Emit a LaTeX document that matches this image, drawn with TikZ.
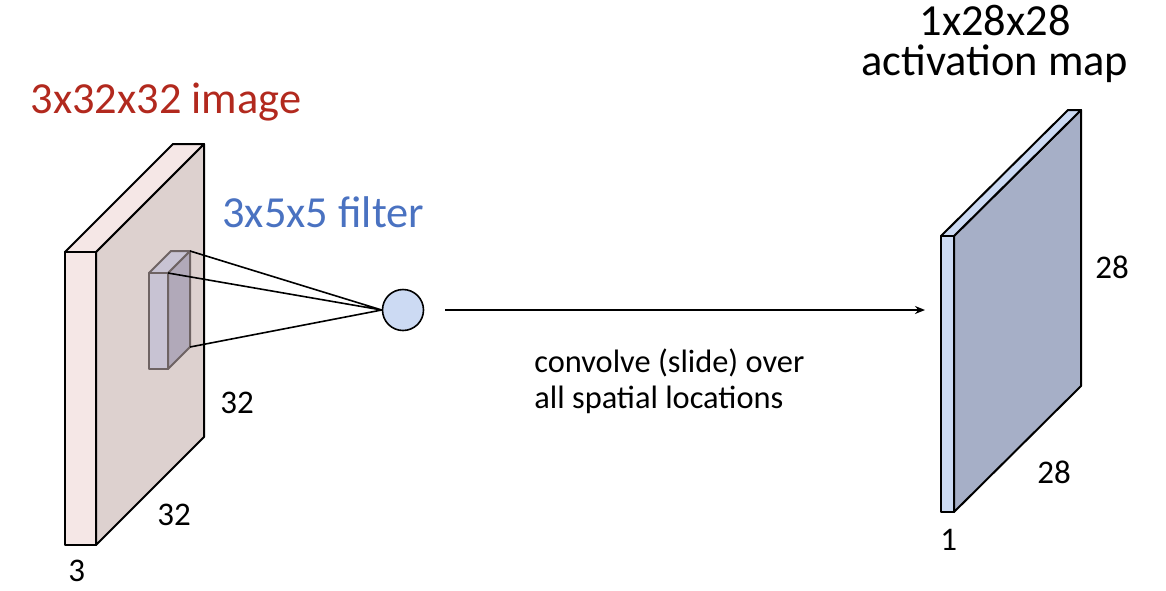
\documentclass[tikz,border=0pt]{standalone}
\usepackage{fontspec}
\setmainfont{Carlito}
\usetikzlibrary{arrows.meta}
\definecolor{imgfront}{HTML}{F5E7E6}
\definecolor{imgside}{HTML}{DDD1CF}
\definecolor{filtfront}{HTML}{C8C3D3}
\definecolor{filtside}{HTML}{B1A9B9}
\definecolor{filtedge}{HTML}{6E6363}
\definecolor{mapfront}{HTML}{CCDAF3}
\definecolor{mapside}{HTML}{A6AFC7}
\definecolor{titlered}{HTML}{B2291E}
\definecolor{filtblue}{HTML}{4A72C1}
\begin{document}
\begin{tikzpicture}[x=0.5pt,y=-0.5pt,>={Stealth[length=5pt,width=4pt]},
  slab/.style={draw=black,line width=1pt,line join=round},
  cube/.style={draw=filtedge,line width=1pt,line join=round},
  big/.style={font=\fontsize{22.2}{20}\selectfont,inner sep=0pt},
  dim/.style={font=\fontsize{16.5}{18}\selectfont,inner sep=0pt,anchor=base west},
  note/.style={font=\fontsize{16.2}{18}\selectfont,inner sep=0pt,align=left}]
  \useasboundingbox (0,0) rectangle (1166,590);
  % input image 3x32x32
  \coordinate (I1) at (65,252); \coordinate (I2) at (96,252); \coordinate (I3) at (96,545); \coordinate (I4) at (65,545);
  \coordinate (J1) at (173,144); \coordinate (J2) at (204,144); \coordinate (J3) at (204,437);
  \draw[slab,fill=imgside] (I2)--(J2)--(J3)--(I3)--cycle;
  \draw[slab,fill=imgfront] (I1)--(J1)--(J2)--(I2)--cycle;
  \draw[slab,fill=imgfront] (I1)--(I2)--(I3)--(I4)--cycle;
  % filter 3x5x5
  \coordinate (F1) at (149,273); \coordinate (F2) at (168,273); \coordinate (F3) at (168,369); \coordinate (F4) at (149,369);
  \coordinate (G1) at (171,251); \coordinate (G2) at (190,251); \coordinate (G3) at (190,347);
  \draw[cube,fill=filtside] (F2)--(G2)--(G3)--(F3)--cycle;
  \draw[cube,fill=filtfront] (F1)--(G1)--(G2)--(F2)--cycle;
  \draw[cube,fill=filtfront] (F1)--(F2)--(F3)--(F4)--cycle;
  \node[circle,draw=black,line width=0.8pt,fill=mapfront,minimum size=20.5pt,inner sep=0pt] (dot) at (403,310) {};
  \draw[line width=0.8pt] (G2)--(dot.west) (F2)--(dot.west) (G3)--(dot.west);
  % activation map 1x28x28
  \coordinate (M1) at (941,236); \coordinate (M2) at (954,236); \coordinate (M3) at (954,512); \coordinate (M4) at (941,512);
  \coordinate (N1) at (1068,110); \coordinate (N2) at (1081,110); \coordinate (N3) at (1081,386);
  \draw[slab,fill=mapside] (M2)--(N2)--(N3)--(M3)--cycle;
  \draw[slab,fill=mapfront] (M1)--(N1)--(N2)--(M2)--cycle;
  \draw[slab,fill=mapfront] (M1)--(M2)--(M3)--(M4)--cycle;
  \coordinate (slide) at (445,310); \coordinate (mapin) at (925,310);
  \draw[->,line width=0.8pt] (slide)--(mapin);
  % labels
  \node[big,text=titlered,anchor=base] (imgname) at (166,113) {3x32x32 image};
  \node[big,text=filtblue,anchor=base west] (filtname) at (222,227) {3x5x5 filter};
  \node[big,anchor=base,align=center] (mapname) at (995,75) {1x28x28\\activation map};
  \node[note,anchor=base west] (slidenote) at (534,408) {convolve (slide) over\\all spatial locations};
  \node[dim] (imgh) at (220,413) {32};
  \node[dim] (imgw) at (157,525) {32};
  \node[dim] (imgd) at (68,581) {3};
  \node[dim] (maph) at (1095,278) {28};
  \node[dim] (mapw) at (1037,483) {28};
  \node[dim] (mapd) at (940,550) {1};
\end{tikzpicture}
\end{document}
